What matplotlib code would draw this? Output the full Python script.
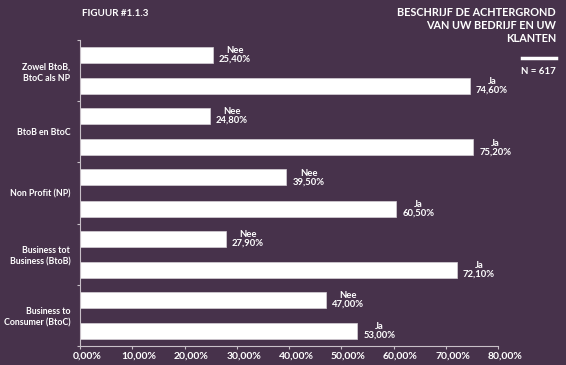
import matplotlib
matplotlib.use("Agg")
from matplotlib import pyplot as plt
from matplotlib.ticker import FuncFormatter, FixedLocator
from matplotlib.transforms import ScaledTranslation

# data, top to bottom
categories = [
    "Zowel BtoB,\nBtoC als NP",
    "BtoB en BtoC",
    "Non Profit (NP)",
    "Business tot\nBusiness (BtoB)",
    "Business to\nConsumer (BtoC)",
]
nee_values = [25.4, 24.8, 39.5, 27.9, 47.0]
ja_values = [74.6, 75.2, 60.5, 72.1, 53.0]
x_ticks = [0, 10, 20, 30, 40, 50, 60, 70, 80]

bg = "#47324b"
fg = "white"
plt.rcParams["font.family"] = ["Lato", "DejaVu Sans"]

fig = plt.figure(figsize=(5.66, 3.65), dpi=100, facecolor=bg)
ax = fig.add_axes([80 / 566, 19 / 365, 418 / 566, 306 / 365])
ax.set_facecolor(bg)

n = len(categories)
pos_nee = [i + 0.246 for i in range(n)]
pos_ja = [i + 0.754 for i in range(n)]
bar_h = 0.26

ax.barh(pos_nee, nee_values, height=bar_h, color="white", edgecolor="#d8d2d8", linewidth=0.5)
ax.barh(pos_ja, ja_values, height=bar_h, color="white", edgecolor="#d8d2d8", linewidth=0.5)

# value labels to the right of the bars
def fmt(v):
    return ("%.2f" % v).replace(".", ",") + "%"

for y, v in zip(pos_nee, nee_values):
    ax.annotate("Nee\n" + fmt(v), (v, y), xytext=(4.5, 0), textcoords="offset points",
                ha="left", va="center", multialignment="center",
                color=fg, fontsize=6.8, fontweight="bold", linespacing=0.95)
for y, v in zip(pos_ja, ja_values):
    ax.annotate("Ja\n" + fmt(v), (v, y), xytext=(4.5, 0), textcoords="offset points",
                ha="left", va="center", multialignment="center",
                color=fg, fontsize=6.8, fontweight="bold", linespacing=0.95)

ax.set_xlim(0, 80)
ax.set_ylim(n, 0)

ax.set_xticks(x_ticks)
ax.xaxis.set_major_formatter(FuncFormatter(lambda v, p: ("%.2f" % v).replace(".", ",") + "%"))
ax.tick_params(axis="x", colors="#c8c0c8", labelcolor=fg, labelsize=7.5, length=2, pad=2)
for lab in ax.get_xticklabels():
    lab.set_fontweight("bold")
    lab.set_transform(lab.get_transform() + ScaledTranslation(5 / 72, 0, fig.dpi_scale_trans))

# group separators as major ticks, category names as minor ticks
ax.yaxis.set_major_locator(FixedLocator(list(range(n + 1))))
ax.set_yticklabels([])
ax.yaxis.set_minor_locator(FixedLocator([i + 0.5 for i in range(n)]))
ax.set_yticklabels(categories, minor=True)
ax.tick_params(axis="y", which="major", colors="#c8c0c8", length=2)
ax.tick_params(axis="y", which="minor", length=0, pad=7, labelcolor=fg, labelsize=6.3)
for lab in ax.get_yticklabels(minor=True):
    lab.set_fontweight("bold")
    lab.set_multialignment("right")
    lab.set_linespacing(1.3)

for s in ["top", "right"]:
    ax.spines[s].set_visible(False)
for s in ["left", "bottom"]:
    ax.spines[s].set_color("#c8c0c8")
    ax.spines[s].set_linewidth(0.8)

# headings
fig.text(82 / 566, 1 - 14 / 365, "FIGUUR #1.1.3", color=fg, fontsize=7,
         fontweight="bold", ha="left", va="center")
fig.text(556 / 566, 1 - 7 / 365, "BESCHRIJF DE ACHTERGROND\nVAN UW BEDRIJF EN UW\nKLANTEN",
         color=fg, fontsize=7.8, fontweight="bold", ha="right", va="top",
         multialignment="right", linespacing=1.25)
fig.add_artist(plt.Line2D([522 / 566, 556 / 566], [1 - 58 / 365, 1 - 58 / 365],
                          color="white", linewidth=2.5, transform=fig.transFigure))
fig.text(556 / 566, 1 - 72 / 365, "N = 617", color=fg, fontsize=7,
         fontweight="bold", ha="right", va="center")

fig.savefig("out.png", dpi=100, facecolor=bg)
